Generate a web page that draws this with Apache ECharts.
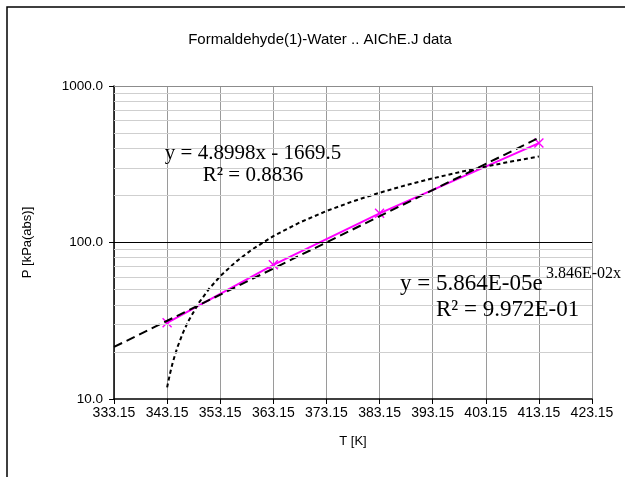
<!DOCTYPE html>
<html>
<head>
<meta charset="utf-8">
<script src="https://cdn.jsdelivr.net/npm/echarts@6/dist/echarts.min.js"></script>
<style>html,body{margin:0;padding:0;background:#fff}#c{width:625px;height:477px}</style>
</head>
<body>
<div id="c"></div>
<script>
// ---- data ----
var titleText = 'Formaldehyde(1)-Water .. AIChE.J data';
var xTickLabels = ['333.15','343.15','353.15','363.15','373.15','383.15','393.15','403.15','413.15','423.15'];
var yTickLabels = ['10.0','100.0','1000.0'];
// measured points (T in K, P in kPa abs)
var dataT = [343.15, 363.15, 383.15, 413.15];
var dataP = [30.7, 72.0, 153.5, 432];
// exponential trendline (straight on log axis)
var expTrendT = [333.15, 413.15];
var expTrendP = [21.5, 466.7];
// linear trendline readings
var linTrendT = [343.15, 343.65, 344.15, 344.65, 345.15, 346.15, 347.15, 349.15, 351.15, 353.15, 356.15, 359.15, 363.15, 368.15, 373.15, 378.15, 383.15, 388.15, 393.15, 398.15, 403.15, 408.15, 413.15];
var linTrendP = [11.87, 14.32, 16.77, 19.22, 21.67, 26.57, 31.47, 41.27, 51.07, 60.87, 75.57, 90.27, 109.87, 134.37, 158.86, 183.36, 207.86, 232.36, 256.86, 281.36, 305.86, 330.36, 354.86];
// minor horizontal grid values
var minorGrid = [20,30,40,50,60,70,80,90,200,300,400,500,600,700,800,900];

var OFFSET = 273.15;
function pairs(ts, ps){ return ts.map(function(t,i){ return [t - OFFSET, ps[i]]; }); }

var chart = echarts.init(document.getElementById('c'), null, {renderer:'canvas'});
var gridLines = minorGrid.map(function(v){ return {yAxis:v, lineStyle:{color:'#cfcfcf', width:1, type:'solid'}}; });
gridLines.push({yAxis:100, lineStyle:{color:'#000', width:1, type:'solid'}});
gridLines.push({yAxis:1000, lineStyle:{color:'#8c8c8c', width:1, type:'solid'}});

var xSym = 'path://M0,1L1,0L5,4L9,0L10,1L6,5L10,9L9,10L5,6L1,10L0,9L4,5Z';

chart.setOption({
  animation:false,
  backgroundColor:'#fff',
  grid:{left:114, right:33, top:86, bottom:78, containLabel:false},
  xAxis:{
    type:'value', min:60, max:150, interval:10,
    name:'T [K]', nameLocation:'middle', nameGap:36,
    nameTextStyle:{color:'#000', fontFamily:'Liberation Sans', fontSize:13},
    axisLine:{show:true, lineStyle:{color:'#000', width:1.5}},
    axisTick:{show:true, length:5, inside:false, lineStyle:{color:'#000'}},
    axisLabel:{color:'#000', fontFamily:'Liberation Sans', fontSize:14, margin:7,
      formatter:function(v){ var i = Math.round((v-60)/10); return xTickLabels[i] || ''; }},
    splitLine:{show:true, lineStyle:{color:'#9a9a9a', width:1}}
  },
  yAxis:{
    type:'log', logBase:10, min:10, max:1000, interval:1,
    name:'P [kPa(abs)]', nameLocation:'middle', nameGap:80, nameRotate:90,
    nameTextStyle:{color:'#000', fontFamily:'Liberation Sans', fontSize:13},
    axisLine:{show:true, lineStyle:{color:'#000', width:1.5}},
    axisTick:{show:true, length:5, inside:false, lineStyle:{color:'#000'}},
    minorTick:{show:false},
    axisLabel:{color:'#000', fontFamily:'Liberation Sans', fontSize:13.5, margin:11,
      formatter:function(v){ var i = Math.round(Math.log10(v)) - 1; return yTickLabels[i] || ''; }},
    splitLine:{show:false}
  },
  graphic:[
    {type:'rect', shape:{x:7, y:7, width:720, height:620}, style:{fill:'none', stroke:'#000', lineWidth:1.5}, z:-10, silent:true},
    {type:'text', x:320, y:40, style:{text:titleText, fill:'#000', font:'15px "Liberation Sans"', textAlign:'center', textVerticalAlign:'middle'}},
    {type:'text', x:253, y:153, style:{text:'y = 4.8998x - 1669.5', fill:'#000', font:'21px "Liberation Serif"', textAlign:'center', textVerticalAlign:'middle'}, z:100},
    {type:'text', x:253, y:175, style:{text:'R² = 0.8836', fill:'#000', font:'21px "Liberation Serif"', textAlign:'center', textVerticalAlign:'middle'}, z:100},
    {type:'text', x:400, y:284, style:{text:'y = 5.864E-05e', fill:'#000', font:'23px "Liberation Serif"', textAlign:'left', textVerticalAlign:'middle'}, z:100},
    {type:'text', x:546, y:274, style:{text:'3.846E-02x', fill:'#000', font:'16px "Liberation Serif"', textAlign:'left', textVerticalAlign:'middle'}, z:100},
    {type:'text', x:436, y:310, style:{text:'R² = 9.972E-01', fill:'#000', font:'23px "Liberation Serif"', textAlign:'left', textVerticalAlign:'middle'}, z:100}
  ],
  series:[
    {type:'line', data:[], z:1, silent:true,
      markLine:{silent:true, symbol:'none', label:{show:false}, animation:false, data:gridLines}},
    {type:'line', data:pairs(dataT, dataP), z:3, symbol:xSym, symbolSize:10, showSymbol:true,
      lineStyle:{color:'#ff00ff', width:2}, itemStyle:{color:'#ff00ff'}},
    {type:'line', data:pairs(expTrendT, expTrendP), z:4, symbol:'none',
      lineStyle:{color:'#000', width:2, type:[9,5]}},
    {type:'line', data:pairs(linTrendT, linTrendP), z:4, symbol:'none',
      lineStyle:{color:'#000', width:2, type:[4,3]}}
  ]
});
</script>
</body>
</html>
